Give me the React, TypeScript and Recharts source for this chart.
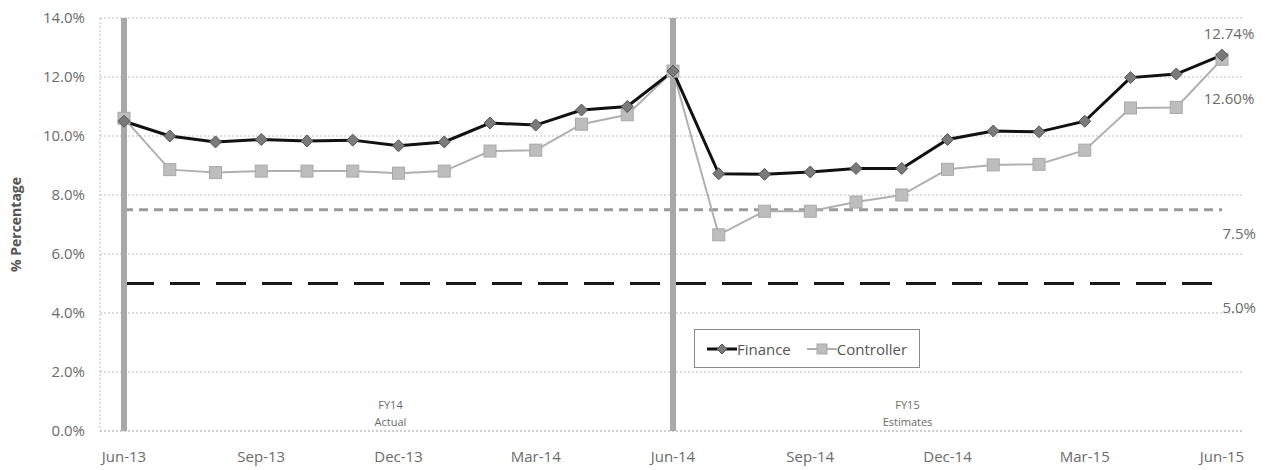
import React from 'react';
import {
  LineChart, Line, XAxis, YAxis, CartesianGrid, ReferenceLine, ReferenceArea,
} from 'recharts';

const months = [
  'Jun-13', 'Jul-13', 'Aug-13', 'Sep-13', 'Oct-13', 'Nov-13', 'Dec-13', 'Jan-14', 'Feb-14', 'Mar-14', 'Apr-14', 'May-14',
  'Jun-14', 'Jul-14', 'Aug-14', 'Sep-14', 'Oct-14', 'Nov-14', 'Dec-14', 'Jan-15', 'Feb-15', 'Mar-15', 'Apr-15', 'May-15', 'Jun-15',
];
const finance = [10.5, 10.0, 9.8, 9.88, 9.83, 9.86, 9.67, 9.8, 10.44, 10.37, 10.88, 11.0,
  12.2, 8.72, 8.7, 8.78, 8.9, 8.9, 9.88, 10.17, 10.14, 10.5, 11.98, 12.1, 12.74];
const controller = [10.6, 8.86, 8.76, 8.81, 8.81, 8.81, 8.74, 8.81, 9.49, 9.52, 10.4, 10.72,
  12.2, 6.65, 7.45, 7.45, 7.76, 8.0, 8.87, 9.02, 9.04, 9.52, 10.95, 10.97, 12.6];
const yTicks = [0, 2, 4, 6, 8, 10, 12, 14];
const targetHigh = 7.5;
const targetLow = 5.0;

const data = months.map((m, i) => ({ month: m, finance: finance[i], controller: controller[i] }));

const FONT = '"Open Sans", sans-serif';
const TXT = '#6b6b6b';

const Diamond = (props: any) => {
  const { cx, cy, index } = props;
  if (cx == null || cy == null) return <g key={`d${index}`} />;
  const r = 6;
  return (
    <path key={`d${index}`} d={`M${cx},${cy - r}L${cx + r},${cy}L${cx},${cy + r}L${cx - r},${cy}Z`}
      fill="#7a7a7a" stroke="#555" strokeWidth={1} />
  );
};
const Square = (props: any) => {
  const { cx, cy, index } = props;
  if (cx == null || cy == null) return <g key={`s${index}`} />;
  const r = 6;
  return <rect key={`s${index}`} x={cx - r} y={cy - r} width={2 * r} height={2 * r} fill="#bdbdbd" stroke="#a8a8a8" strokeWidth={1} />;
};

const lastLabel = (dy: number, text: (v: number) => string, n: number) => (props: any) => {
  const { x, y, index, value } = props;
  if (index !== n - 1) return null;
  return (
    <text x={x + 7} y={y + dy} textAnchor="middle" dominantBaseline="central" fill={TXT} fontSize={15} fontFamily={FONT}>
      {text(value)}
    </text>
  );
};

const areaLabel = (l1: string, l2: string, dx: number) => (props: any) => {
  const vb = props.viewBox;
  const cx = vb.x + vb.width / 2 + dx;
  const by = vb.y + vb.height;
  return (
    <g>
      <text x={cx} y={by - 27} textAnchor="middle" dominantBaseline="central" fill={TXT} fontSize={11} fontFamily={FONT}>{l1}</text>
      <text x={cx} y={by - 10} textAnchor="middle" dominantBaseline="central" fill={TXT} fontSize={11} fontFamily={FONT}>{l2}</text>
    </g>
  );
};

const refLabel = (text: string) => (props: any) => {
  const vb = props.viewBox;
  return (
    <text x={vb.x + vb.width + 34} y={vb.y + 23} textAnchor="end" dominantBaseline="central" fill={TXT} fontSize={15} fontFamily={FONT}>{text}</text>
  );
};

const LegendBox = () => (
  <div style={{
    position: 'absolute', left: 694, top: 329, width: 226, height: 39, border: '1px solid #8a8a8a', boxSizing: 'border-box',
    background: '#fff', display: 'flex', alignItems: 'center', justifyContent: 'center', fontFamily: FONT, fontSize: 15, color: '#555',
  }}>
    <svg width={30} height={14}>
      <line x1={0} y1={7} x2={30} y2={7} stroke="#111" strokeWidth={3} />
      <path d="M15,2L20,7L15,12L10,7Z" fill="#7a7a7a" stroke="#555" />
    </svg>
    <span style={{ marginRight: 16 }}>Finance</span>
    <svg width={30} height={14}>
      <line x1={0} y1={7} x2={30} y2={7} stroke="#b0b0b0" strokeWidth={2} />
      <rect x={10} y={2} width={10} height={10} fill="#bdbdbd" stroke="#a8a8a8" />
    </svg>
    <span>Controller</span>
  </div>
);

export default function App() {
  const n = months.length;
  return (
    <div style={{ position: 'absolute', left: 0, top: 0, width: 1272, height: 470, background: '#fff' }}>
      <LineChart width={1272} height={470} data={data} margin={{ top: 18, right: 29, bottom: 9, left: 30 }}>
        <CartesianGrid vertical={false} stroke="#bdbdbd" strokeDasharray="2 2" />
        <XAxis dataKey="month" interval={2} padding={{ left: 24, right: 21 }} height={30}
          axisLine={{ stroke: '#bdbdbd', strokeDasharray: '2 2' }} tickLine={false}
          tick={{ fill: TXT, fontSize: 15, fontFamily: FONT }} tickMargin={14} />
        <YAxis domain={[0, 14]} ticks={yTicks} width={70} tickFormatter={(v: number) => `${v.toFixed(1)}%`}
          axisLine={{ stroke: '#bdbdbd', strokeDasharray: '2 2' }} tickLine={false}
          tick={{ fill: TXT, fontSize: 15, fontFamily: FONT }} tickMargin={9}
          label={{ value: '% Percentage', angle: -90, position: 'insideLeft', offset: -14, style: { textAnchor: 'middle', fill: '#555', fontWeight: 'bold', fontSize: 14, fontFamily: FONT } }} />
        <ReferenceArea x1="Jun-13" x2="Jun-14" fill="none" fillOpacity={0} stroke="none" label={areaLabel('FY14', 'Actual', -8)} />
        <ReferenceArea x1="Jun-14" x2="Jun-15" fill="none" fillOpacity={0} stroke="none" label={areaLabel('FY15', 'Estimates', -40)} />
        <ReferenceLine segment={[{ x: 'Jun-13', y: targetHigh }, { x: 'Jun-15', y: targetHigh }]} stroke="#9a9a9a" strokeWidth={3} strokeDasharray="9 6" label={refLabel('7.5%')} />
        <ReferenceLine segment={[{ x: 'Jun-13', y: targetLow }, { x: 'Jun-15', y: targetLow }]} stroke="#1a1a1a" strokeWidth={3} strokeDasharray="30 16" label={refLabel('5.0%')} />
        <ReferenceLine x="Jun-13" stroke="#a8a8a8" strokeWidth={6} />
        <ReferenceLine x="Jun-14" stroke="#a8a8a8" strokeWidth={6} />
        <Line dataKey="controller" stroke="#b0b0b0" strokeWidth={2} dot={Square} activeDot={false} isAnimationActive={false}
          label={lastLabel(39, (v) => `${v.toFixed(2)}%`, n)} />
        <Line dataKey="finance" stroke="#111" strokeWidth={3} dot={Diamond} activeDot={false} isAnimationActive={false}
          label={lastLabel(-22, (v) => `${v.toFixed(2)}%`, n)} />
      </LineChart>
      <LegendBox />
    </div>
  );
}
